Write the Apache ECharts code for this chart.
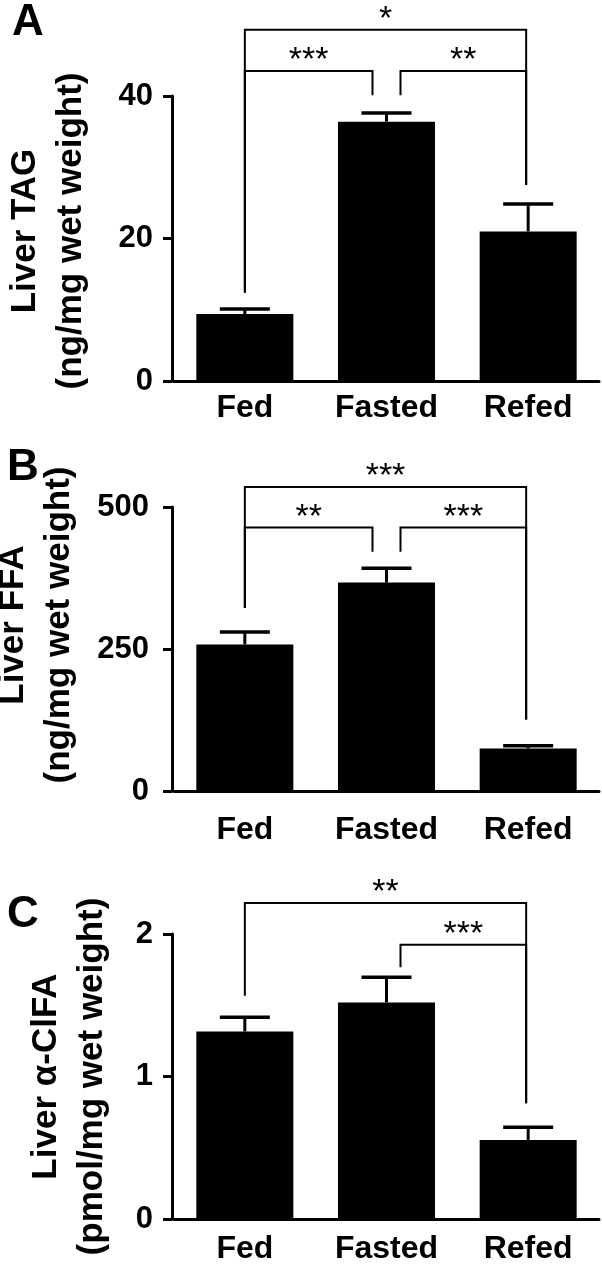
<!DOCTYPE html>
<html>
<head>
<meta charset="utf-8">
<script src="https://cdn.jsdelivr.net/npm/echarts@6/dist/echarts.min.js"></script>
<style>
html,body{margin:0;padding:0;background:#fff;}
#chart{width:602px;height:1268px;}
</style>
</head>
<body>
<div id="chart"></div>
<script>
// ---- data ----
var categories = ['Fed', 'Fasted', 'Refed'];

var tagMean = [9.4, 36.4, 21.0];
var tagSem = [0.7, 1.2, 3.85];
var tagTicks = [0, 20, 40];
var tagBracketPairs = [[0, 2], [0, 1], [1, 2]];
var tagBracketLevels = [49.3, 43.5, 43.5];
var tagBracketLegs = [[12.4, 27.5], [12.4, 40.1], [40.1, 27.5]];
var tagBracketLabels = ['*', '***', '**'];

var ffaMean = [258, 367, 75];
var ffaSem = [22, 25, 4.6];
var ffaTicks = [0, 250, 500];
var ffaBracketPairs = [[0, 2], [0, 1], [1, 2]];
var ffaBracketLevels = [535, 464, 464];
var ffaBracketLegs = [[322, 126], [322, 421], [421, 126]];
var ffaBracketLabels = ['***', '**', '***'];

var clfaMean = [1.316, 1.52, 0.555];
var clfaSem = [0.1, 0.176, 0.089];
var clfaTicks = [0, 1, 2];
var clfaBracketPairs = [[0, 2], [1, 2]];
var clfaBracketLevels = [2.218, 1.925];
var clfaBracketLegs = [[1.567, 0.813], [1.766, 0.813]];
var clfaBracketLabels = ['**', '***'];

var panelLetters = ['A', 'B', 'C'];
var yNames = ['Liver TAG\n(ng/mg wet weight)', 'Liver FFA\n(ng/mg wet weight)', 'Liver \u03b1-ClFA\n(pmol/mg wet weight)'];

// ---- layout ----
var FONT = '"Liberation Sans", Arial, Helvetica, sans-serif';
var panels = [
  {mean: tagMean, sem: tagSem, ticks: tagTicks, pairs: tagBracketPairs, levels: tagBracketLevels, legs: tagBracketLegs, labels: tagBracketLabels,
   top: 96, height: 285, xMargin: 11, yMargin: 19, nameGap: 78, namePad: 15},
  {mean: ffaMean, sem: ffaSem, ticks: ffaTicks, pairs: ffaBracketPairs, levels: ffaBracketLevels, legs: ffaBracketLegs, labels: ffaBracketLabels,
   top: 507, height: 284, xMargin: 23, yMargin: 23, nameGap: 90, namePad: 48},
  {mean: clfaMean, sem: clfaSem, ticks: clfaTicks, pairs: clfaBracketPairs, levels: clfaBracketLevels, legs: clfaBracketLegs, labels: clfaBracketLabels,
   top: 934, height: 285, xMargin: 14, yMargin: 19, nameGap: 57, namePad: 0}
];
var letterPos = [[12, 1], [7, 446], [7, 893]];

var grids = [], xAxes = [], yAxes = [], series = [], graphics = [];

panels.forEach(function (p, i) {
  grids.push({left: 174, top: p.top, width: 425, height: p.height, containLabel: false, outerBoundsMode: 'none'});
  xAxes.push({
    type: 'category', gridIndex: i, data: categories,
    axisLine: {lineStyle: {color: '#000', width: 3}},
    axisTick: {show: false},
    axisLabel: {color: '#000', fontFamily: FONT, fontWeight: 'bold', fontSize: 32, margin: p.xMargin},
    splitLine: {show: false}
  });
  var tmin = p.ticks[0], tmax = p.ticks[p.ticks.length - 1];
  yAxes.push({
    type: 'value', gridIndex: i, min: tmin, max: tmax, interval: p.ticks[1] - p.ticks[0],
    offset: 2,
    name: yNames[i], nameLocation: 'middle', nameRotate: 90, nameGap: p.nameGap,
    nameTextStyle: {color: '#000', fontFamily: FONT, fontWeight: 'bold', fontSize: 35, lineHeight: 46,
      padding: [0, 0, 0, p.namePad]},
    axisLine: {show: true, lineStyle: {color: '#000', width: 3}},
    axisTick: {show: true, inside: false, length: 9, lineStyle: {color: '#000', width: 3}},
    axisLabel: {color: '#000', fontFamily: FONT, fontWeight: 'bold', fontSize: 31, margin: p.yMargin},
    splitLine: {show: false}
  });
  series.push({
    type: 'bar', xAxisIndex: i, yAxisIndex: i, data: p.mean, barWidth: 97,
    itemStyle: {color: '#000'}, silent: true
  });
  series.push({
    type: 'custom', xAxisIndex: i, yAxisIndex: i, silent: true, clip: false, z: 5,
    data: p.mean.map(function (m, k) { return [k, m, m + p.sem[k]]; }),
    encode: {x: 0, y: 1},
    renderItem: function (params, api) {
      var b = api.coord([api.value(0), api.value(1)]);
      var t = api.coord([api.value(0), api.value(2)]);
      return {
        type: 'group', children: [
          {type: 'line', shape: {x1: b[0], y1: b[1], x2: t[0], y2: t[1]}, style: {stroke: '#000', lineWidth: 3}},
          {type: 'line', shape: {x1: t[0] - 25, y1: t[1], x2: t[0] + 25, y2: t[1]}, style: {stroke: '#000', lineWidth: 3.5}}
        ]
      };
    }
  });
  series.push({
    type: 'custom', xAxisIndex: i, yAxisIndex: i, silent: true, clip: false, z: 6,
    data: p.pairs.map(function (pr, k) { return [pr[0], pr[1], p.levels[k], p.legs[k][0], p.legs[k][1]]; }),
    encode: {x: 0, y: 2},
    renderItem: function (params, api) {
      var a = api.value(0), b = api.value(1);
      var lvl = api.value(2);
      var pa = api.coord([a, lvl]), pb = api.coord([b, lvl]);
      var la = api.coord([a, api.value(3)]), lb = api.coord([b, api.value(4)]);
      var dxa = (a === 1) ? 14 * Math.sign(b - a) : 0;
      var dxb = (b === 1) ? 14 * Math.sign(a - b) : 0;
      if (b === 2) dxb = -2;
      var xa = pa[0] + dxa, xb = pb[0] + dxb;
      var lab = p.labels[params.dataIndex];
      return {
        type: 'group', children: [
          {type: 'polyline', shape: {points: [[xa, la[1]], [xa, pa[1]], [xb, pb[1]], [xb, lb[1]]]},
           style: {stroke: '#000', lineWidth: 2, fill: null}},
          {type: 'text', style: {text: lab, x: (xa + xb) / 2, y: pa[1] - 10, fill: '#000',
            font: 'normal 34px ' + FONT, textAlign: 'center', textVerticalAlign: 'middle', align: 'center', verticalAlign: 'middle'}}
        ]
      };
    }
  });
  graphics.push({
    type: 'text', left: letterPos[i][0], top: letterPos[i][1],
    style: {text: panelLetters[i], fill: '#000', font: 'bold 44px ' + FONT}
  });
});

var chart = echarts.init(document.getElementById('chart'), null, {renderer: 'canvas', width: 602, height: 1268});
chart.setOption({
  animation: false,
  backgroundColor: '#fff',
  grid: grids,
  xAxis: xAxes,
  yAxis: yAxes,
  series: series,
  graphic: graphics
});
</script>
</body>
</html>
